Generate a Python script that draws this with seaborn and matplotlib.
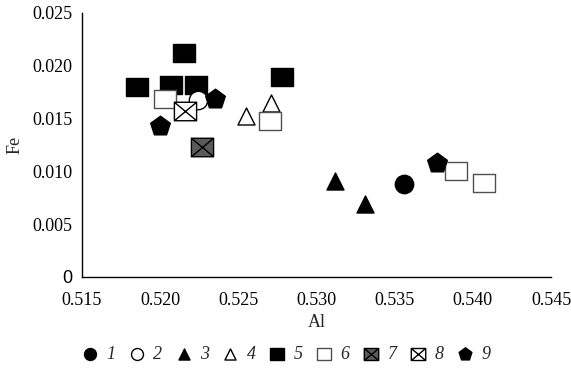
import numpy as np
import matplotlib
matplotlib.use("Agg")
import matplotlib.pyplot as plt
from matplotlib.path import Path
import seaborn as sns

# Al / Fe values per sample group
labels = ["1", "2", "3", "4", "5", "6", "7", "8", "9"]
al_values = [
    [0.5356],
    [0.5224],
    [0.5312, 0.5331],
    [0.5255, 0.5271],
    [0.5215, 0.5185, 0.5207, 0.5223, 0.5278],
    [0.5203, 0.5270, 0.5389, 0.5407],
    [0.5227],
    [0.5216],
    [0.5235, 0.5200, 0.5377],
]
fe_values = [
    [0.0088],
    [0.0168],
    [0.0091, 0.0069],
    [0.0152, 0.0165],
    [0.0212, 0.0180, 0.0182, 0.0182, 0.0189],
    [0.0169, 0.0148, 0.0100, 0.0089],
    [0.0123],
    [0.0157],
    [0.0169, 0.0143, 0.0108],
]
x_ticks = [0.515, 0.520, 0.525, 0.530, 0.535, 0.540, 0.545]
x_tick_labels = ["0.515", "0.520", "0.525", "0.530", "0.535", "0.540", "0.545"]
y_ticks = [0, 0.005, 0.010, 0.015, 0.020, 0.025]
y_tick_labels = ["0", "0.005", "0.010", "0.015", "0.020", "0.025"]

sns.set_style("white")
plt.rcParams["font.family"] = ["Liberation Serif", "DejaVu Serif"]

# wide rectangle marker, and one with a cross inside
w, h = 0.6, 0.5
rect = Path([(-w, -h), (w, -h), (w, h), (-w, h), (-w, -h)],
            [Path.MOVETO, Path.LINETO, Path.LINETO, Path.LINETO, Path.CLOSEPOLY])
rect_x = Path([(-w, -h), (w, -h), (w, h), (-w, h), (-w, -h),
               (-w, -h), (w, h), (-w, h), (w, -h)],
              [Path.MOVETO, Path.LINETO, Path.LINETO, Path.LINETO, Path.CLOSEPOLY,
               Path.MOVETO, Path.LINETO, Path.MOVETO, Path.LINETO])

styles = [
    dict(marker="o", s=175, color="black", edgecolor="black", zorder=3),
    dict(marker="o", s=175, color="white", edgecolor="black", zorder=3),
    dict(marker="^", s=150, color="black", edgecolor="black", zorder=3),
    dict(marker="^", s=150, color="white", edgecolor="black", zorder=3),
    dict(marker=rect, s=255, color="black", edgecolor="black", zorder=2.5),
    dict(marker=rect, s=255, color="white", edgecolor="#505050", zorder=3),
    dict(marker=rect_x, s=255, color="#5a5a5a", edgecolor="black", zorder=3),
    dict(marker=rect_x, s=255, color="white", edgecolor="black", zorder=3.2),
    dict(marker="p", s=220, color="black", edgecolor="black", zorder=3.1),
]

fig = plt.figure(figsize=(5.71, 3.70), dpi=100)
ax = fig.add_axes([0.1436, 0.2514, 0.8214, 0.7135])

for lab, xs, ys, st in zip(labels, al_values, fe_values, styles):
    sns.scatterplot(x=xs, y=ys, ax=ax, label=lab, linewidth=1.0, **st)

ax.set_xlim(0.515, 0.545)
ax.set_ylim(0, 0.025)
ax.set_xticks(x_ticks)
ax.set_xticklabels(x_tick_labels)
ax.set_yticks(y_ticks)
ax.set_yticklabels(y_tick_labels)
ax.tick_params(direction="in", length=6, width=1, labelsize=13, colors="black")
ax.tick_params(axis="x", pad=11)
ax.tick_params(axis="y", pad=7)
ax.get_yticklabels()[0].set_family("Liberation Sans")
ax.set_xlabel("Al", fontsize=13)
ax.set_ylabel("Fe", fontsize=13)
ax.xaxis.set_label_coords(0.5, -0.14)
ax.yaxis.set_label_coords(-0.125, 0.5)
sns.despine(ax=ax)
for sp in ["left", "bottom"]:
    ax.spines[sp].set_color("black")
    ax.spines[sp].set_linewidth(1)

handles, labs = ax.get_legend_handles_labels()
ax.get_legend().remove()
leg = fig.legend(handles, labs, loc="center", bbox_to_anchor=(0.5, 0.043), ncol=9,
                 frameon=False, markerscale=0.65, handlelength=1.0, handletextpad=0.4,
                 columnspacing=0.7, prop={"size": 13, "style": "italic"})

fig.savefig("out.png", dpi=100)
